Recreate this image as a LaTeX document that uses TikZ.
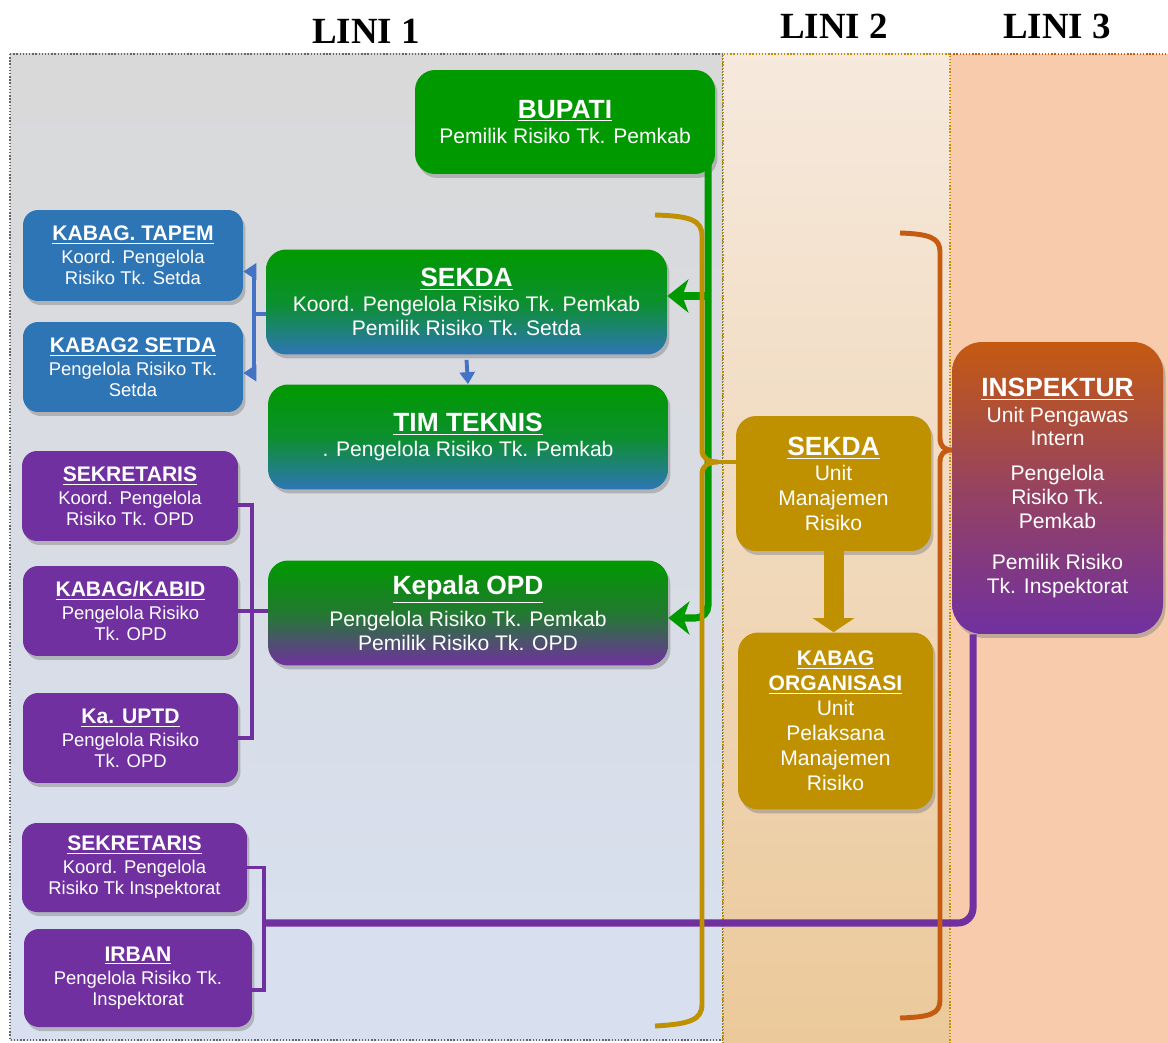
\documentclass[tikz,border=0pt]{standalone}
\usepackage{fontspec}
\setmainfont{Liberation Sans}
\newfontfamily\linifont{Liberation Serif}
\usetikzlibrary{arrows.meta}
\usetikzlibrary{
    shadows, % Drop shadows under the boxes.
    calc     % Small offsets from node anchors.
}

% Colours of the three lines of defence.
\definecolor{hijau}{HTML}{009900}
\definecolor{biru}{HTML}{2E75B6}
\definecolor{birugaris}{HTML}{4472C4}
\definecolor{ungu}{HTML}{7030A0}
\definecolor{emas}{HTML}{BF9000}
\definecolor{jingga}{HTML}{C55A11}
\definecolor{latarsatuatas}{HTML}{D9D9D9}
\definecolor{latarsatubawah}{HTML}{D8E0F0}
\definecolor{latarduaatas}{HTML}{F6E9DD}
\definecolor{latarduabawah}{HTML}{EBC99A}
\definecolor{latartiga}{HTML}{F8CBAD}

\tikzset{
    kotak/.style = {%
        rounded corners = 0.4cm,
        align = center,
        text = white,
        inner sep = 0pt,
        drop shadow = {opacity = 0.45, shadow xshift = 0.05cm, shadow yshift = -0.08cm}
    },
    kotakbesar/.style = {kotak, minimum width = 8cm, minimum height = 2.1cm,
        font = \fontsize{12}{13.6}\selectfont},
    kotakkecil/.style = {kotak, rounded corners = 0.3cm, minimum height = 1.8cm,
        font = \fontsize{10.5}{12}\selectfont},
    kotakdua/.style = {kotak, fill = emas, minimum width = 3.9cm,
        font = \fontsize{12}{14.2}\selectfont},
    garishijau/.style = {draw = hijau, line width = 4pt,
        -{Stealth[length = 0.42cm, width = 0.66cm, inset = 0.12cm]}},
    garisbiru/.style = {draw = birugaris, line width = 2.2pt},
    garisungu/.style = {draw = ungu, line width = 2.2pt},
    kurung/.style = {line width = 2.8pt}
}

\newcommand{\judul}[1]{{\fontsize{15}{17}\selectfont\bfseries\underline{#1}}}
\newcommand{\judulkecil}[1]{{\fontsize{12}{14}\selectfont\bfseries\underline{#1}}}

\begin{document}
\begin{tikzpicture}[x = 0.02cm, y = -0.02cm, >=Latex]

        \useasboundingbox (0, 0) rectangle (1168, 1043);

        % Backgrounds of the three lines.
        \fill[top color = latarsatuatas, bottom color = latarsatubawah]
            (10, 54) rectangle (723, 1040);
        \draw[densely dotted, black!60, line width = 0.8pt] (10, 54) rectangle (723, 1040);
        \fill[top color = latarduaatas, bottom color = latarduabawah]
            (723, 54) rectangle (950, 1043);
        \fill[latartiga] (950, 54) rectangle (1168, 1043);
        \draw[densely dotted, emas, line width = 0.8pt]
            (723, 1043) -- (723, 54) -- (950, 54) -- (950, 1043);
        \draw[densely dotted, jingga, line width = 0.8pt] (950, 54) -- (1168, 54);

        % Headings.
        \node[font = \linifont\bfseries\fontsize{21}{24}\selectfont] (lini1) at (366, 31) {LINI 1};
        \node[font = \linifont\bfseries\fontsize{21}{24}\selectfont] (lini2) at (834, 26) {LINI 2};
        \node[font = \linifont\bfseries\fontsize{21}{24}\selectfont] (lini3) at (1057, 26) {LINI 3};

        % Line 1, top level.
        \node[kotak, fill = hijau, minimum width = 6cm, minimum height = 2.08cm,
            font = \fontsize{12}{13.6}\selectfont] (bupati) at (565, 122)
            {\judul{BUPATI}\\[1pt] Pemilik Risiko Tk. Pemkab};

        % Secretariat of the regency.
        \node[kotakbesar, top color = hijau, bottom color = biru, middle color = hijau!75!biru,
            minimum width = 8.02cm] (sekda) at (466.5, 302)
            {\judul{SEKDA}\\[1pt] Koord. Pengelola Risiko Tk. Pemkab\\ Pemilik Risiko Tk. Setda};
        \node[kotakbesar, top color = hijau, bottom color = biru, middle color = hijau!75!biru]
            (timteknis) at (468, 437)
            {\judul{TIM TEKNIS}\\[1pt] . Pengelola Risiko Tk. Pemkab};
        \node[kotakkecil, fill = biru, minimum width = 4.4cm, minimum height = 1.82cm]
            (tapem) at (133, 255.5)
            {\judulkecil{KABAG. TAPEM}\\[1pt] Koord. Pengelola\\ Risiko Tk. Setda};
        \node[kotakkecil, fill = biru, minimum width = 4.4cm]
            (setda) at (133, 367)
            {\judulkecil{KABAG2 SETDA}\\[1pt] Pengelola Risiko Tk.\\ Setda};

        % Regional offices.
        \node[kotakbesar, top color = hijau, bottom color = ungu, middle color = hijau!70!ungu]
            (kepopd) at (468, 613)
            {\judul{Kepala OPD}\\[3pt] Pengelola Risiko Tk. Pemkab\\ Pemilik Risiko Tk. OPD};
        \node[kotakkecil, fill = ungu, minimum width = 4.32cm] (sekopd) at (130, 496)
            {\judulkecil{SEKRETARIS}\\[1pt] Koord. Pengelola\\ Risiko Tk. OPD};
        \node[kotakkecil, fill = ungu, minimum width = 4.3cm] (kabid) at (130.5, 611)
            {\judulkecil{KABAG/KABID}\\[1pt] Pengelola Risiko\\ Tk. OPD};
        \node[kotakkecil, fill = ungu, minimum width = 4.3cm] (uptd) at (130.5, 738)
            {\judulkecil{Ka. UPTD}\\[1pt] Pengelola Risiko\\ Tk. OPD};

        % Inspectorate staff.
        \node[kotakkecil, fill = ungu, minimum width = 4.5cm, minimum height = 1.78cm]
            (sekinsp) at (134.5, 867.5)
            {\judulkecil{SEKRETARIS}\\[1pt] Koord. Pengelola\\ Risiko Tk Inspektorat};
        \node[kotakkecil, fill = ungu, minimum width = 4.56cm, minimum height = 1.96cm]
            (irban) at (138, 978)
            {\judulkecil{IRBAN}\\[1pt] Pengelola Risiko Tk.\\ Inspektorat};

        % Line 2.
        \node[kotakdua, minimum height = 2.7cm] (sekda2) at (833.5, 483.5)
            {\judul{SEKDA}\\ Unit\\ Manajemen\\ Risiko};
        \node[kotakdua, minimum height = 3.54cm] (kabagorg) at (835.5, 721)
            {\judulkecil{KABAG}\\ \judulkecil{ORGANISASI}\\ Unit\\ Pelaksana\\ Manajemen\\ Risiko};

        % Line 3.
        \node[kotak, rounded corners = 0.6cm, minimum width = 4.22cm, minimum height = 5.84cm,
            top color = jingga, bottom color = ungu, middle color = jingga!45!ungu,
            font = \fontsize{12}{13.6}\selectfont] (inspektur) at (1057.5, 488)
            {\judul{INSPEKTUR}\\[1pt] Unit Pengawas\\ Intern\\[6pt]
             Pengelola\\ Risiko Tk.\\ Pemkab\\[10pt] Pemilik Risiko\\ Tk. Inspektorat};

        % Green arrows from the regent.
        \coordinate (hijauatas) at (708, 160);
        \draw[garishijau, rounded corners = 0.25cm] (hijauatas) |- ($(kepopd.east) + (0, 5)$);
        \draw[garishijau] (hijauatas |- 0, 296) -- (sekda.east |- 0, 296);

        % Blue bracket of the secretariat.
        \coordinate (birusiku) at (254, 314);
        \draw[garisbiru] (sekda.west |- birusiku) -- (birusiku);
        \draw[garisbiru, -{Triangle[length = 0.26cm, width = 0.32cm]}]
            (birusiku) |- ($(tapem.east) + (0, 16)$);
        \draw[garisbiru, -{Triangle[length = 0.26cm, width = 0.32cm]}]
            (birusiku) |- ($(setda.east) + (0, 6)$);
        \draw[garisbiru, -{Triangle[length = 0.24cm, width = 0.3cm]}]
            ($(sekda.south) + (0, 5)$) -- (timteknis.north);

        % Purple bracket of the regional offices.
        \coordinate (ungusiku) at (252, 612);
        \draw[garisungu] ($(sekopd.east) + (0, 9)$) -| (ungusiku |- uptd.east) -- (uptd.east);
        \draw[garisungu] (kabid.east) -- (kabid.east -| kepopd.west);

        % Purple link from the inspector to his staff.
        \coordinate (ungubawah) at (264, 923);
        \draw[garisungu] (sekinsp.east) -| ($(ungubawah |- irban.east) + (0, 12)$)
            -- ($(irban.east) + (0, 12)$);
        \draw[draw = ungu, line width = 4pt, rounded corners = 0.3cm]
            (inspektur.south -| 973, 0) |- (ungubawah);

        % Gold brace of line 1 and its link to the risk unit.
        \draw[kurung, emas] (655, 215) .. controls (690, 216) and (702, 220) .. (702, 236)
            -- (702, 450) .. controls (702, 458) and (708, 462) .. (718, 462)
            .. controls (708, 462) and (702, 466) .. (702, 474)
            -- (702, 1004) .. controls (702, 1020) and (690, 1024) .. (655, 1026);
        \coordinate (emasujung) at (716, 462);
        \draw[kurung, emas] (emasujung) -- (emasujung -| sekda2.west);

        % Big gold arrow inside line 2.
        \draw[draw = emas, line width = 0.4cm, -{Triangle[length = 0.28cm, width = 0.82cm]}]
            (sekda2.south) -- (sekda2.south |- kabagorg.north);

        % Orange brace of line 3.
        \draw[kurung, jingga] (900, 233) .. controls (930, 234) and (940, 238) .. (940, 252)
            -- (940, 438) .. controls (940, 446) and (944, 450) .. (952, 450)
            .. controls (944, 450) and (940, 454) .. (940, 462)
            -- (940, 1000) .. controls (940, 1014) and (930, 1017) .. (900, 1018);

    \end{tikzpicture}
\end{document}
